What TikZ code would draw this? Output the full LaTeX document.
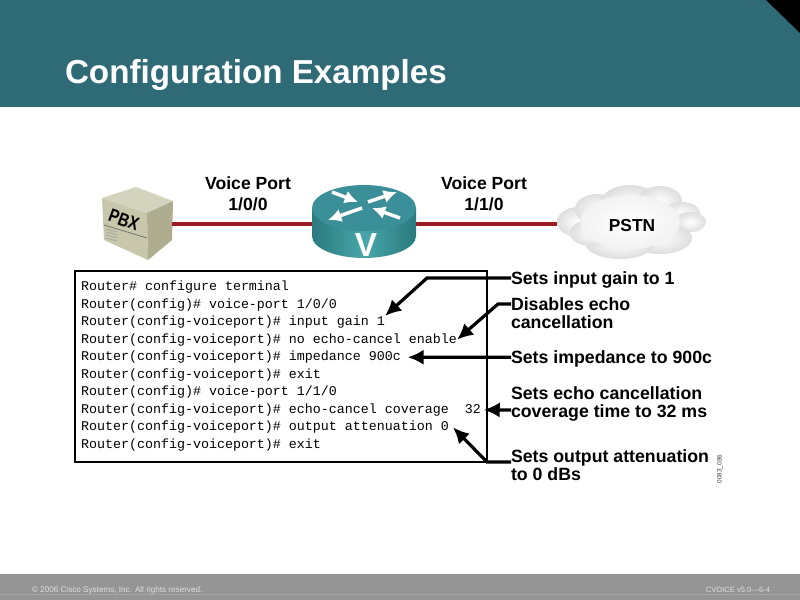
\documentclass[tikz,border=0pt]{standalone}
\usepackage{fontspec}
\setmainfont{Liberation Sans}
\setmonofont{Liberation Mono}
\usetikzlibrary{arrows.meta}
\definecolor{bandteal}{HTML}{2F6A77}
\definecolor{linkred}{HTML}{9A1C22}
\definecolor{footgray}{HTML}{959595}
\definecolor{routertop}{HTML}{3A8F98}
\definecolor{routerdark}{HTML}{2A7A7E}
\definecolor{routerlight}{HTML}{48A6A9}
\definecolor{boxtop}{HTML}{D4D3BE}
\definecolor{boxleft}{HTML}{C9C7AB}
\definecolor{boxright}{HTML}{AFAD8F}
\begin{document}
\begin{tikzpicture}[x=0.75pt,y=-0.75pt,
   every node/.style={inner sep=0pt,outer sep=0pt},
   portlabel/.style={font=\fontsize{13.2pt}{15.5pt}\selectfont\bfseries,align=center},
   note/.style={anchor=west,align=left,font=\fontsize{13.3pt}{13.5pt}\selectfont\bfseries},
   codeline/.style={anchor=west,font=\fontsize{10pt}{10pt}\selectfont\ttfamily,text=black},
   link/.style={draw=linkred,line width=3pt},
   pointer/.style={draw=black,line width=2.4pt,-{Latex[length=12pt,width=11.5pt]}},
   swirl/.style={draw=white,line width=2.6pt,-{Latex[length=10pt,width=10pt]}}]
  \useasboundingbox (0,0) rectangle (800,600);
  \fill[white] (0,0) rectangle (800,600);
  \fill[bandteal] (0,0) rectangle (800,107);
  \fill[black] (766,0) -- (800,0) -- (800,33) -- cycle;
  \fill[footgray] (0,574) rectangle (800,600);
  \draw[white!15!footgray] (0,594) -- (800,594);
  \node[anchor=west,text=white,font=\fontsize{24.9pt}{25pt}\selectfont\bfseries] (title) at (65,75) {Configuration Examples};
  \node[anchor=west,text=white!70!footgray,font=\fontsize{6.1pt}{7pt}\selectfont] (copyright) at (32,590) {© 2006 Cisco Systems, Inc. All rights reserved.};
  \node[anchor=east,text=white!70!footgray,font=\fontsize{5.7pt}{7pt}\selectfont] (course) at (770,590) {CVOICE v5.0—6-4};
  % PBX box
  \fill[boxtop] (102,198) -- (136,187) -- (173,201) -- (147,213) -- cycle;
  \fill[boxleft] (102,198) -- (147,213) -- (148,260) -- (104,240) -- cycle;
  \fill[boxright] (147,213) -- (173,201) -- (172,240) -- (148,260) -- cycle;
  \draw[black!60,line width=0.5pt] (104,225) -- (147,238);
  \foreach \y in {229,232,235,238} {\draw[black!35,line width=0.6pt] (106,\y) -- (117,\y+3);}
  \node[font=\fontsize{14pt}{14pt}\selectfont\bfseries,rotate=-20,xscale=0.8] (pbxlabel) at (124,220) {PBX};
  \node[minimum width=51pt,minimum height=6pt] (pbx) at (138,224) {};
  % router
  \path[left color=routerdark,right color=routerdark,middle color=routerlight] (312,208) -- (312,236) arc[start angle=180,end angle=0,x radius=52,y radius=22] -- (416,208) -- cycle;
  \fill[routertop] (364,208) ellipse[x radius=52,y radius=23];
  \node[minimum width=78pt,minimum height=6pt] (router) at (364,224) {};
  \draw[swirl] (332,192) -- (358,202);
  \draw[swirl] (368,202) -- (397,192);
  \draw[swirl] (362,208) -- (328,220);
  \draw[swirl] (400,218) -- (372,208);
  \node[text=white,font=\fontsize{25pt}{25pt}\selectfont\bfseries] (routerv) at (366,245) {V};
  % PSTN cloud
  \foreach \cx/\cy/\rx/\ry in {578/222/21/15,597/209/22/15,630/204/30/19,660/201/22/15,682/213/18/11,690/222/16/10,660/238/32/16,620/243/35/16,590/233/20/13} {
    \shade[inner color=white,outer color=black!13] (\cx,\cy) ellipse[x radius=\rx,y radius=\ry];}
  \shade[inner color=white,outer color=black!5] (630,222) ellipse[x radius=50,y radius=27];
  \node[minimum width=111pt,minimum height=6pt] (pstn) at (631,224) {};
  \node[font=\fontsize{13pt}{13pt}\selectfont\bfseries] (pstnlabel) at (632,226) {PSTN};
  \draw[link] (pbx.east) -- (router.west);
  \draw[link] (router.east) -- (pstn.west);
  \node[portlabel] (port1) at (248,194) {Voice Port\\1/0/0};
  \node[portlabel] (port2) at (484,194) {Voice Port\\1/1/0};
  % code listing
  \draw[black,line width=2pt] (75,271) rectangle (487,462);
  \foreach \t [count=\n] in {Router\# configure terminal,
    Router(config)\# voice-port 1/0/0,
    Router(config-voiceport)\# input gain 1,
    Router(config-voiceport)\# no echo-cancel enable,
    Router(config-voiceport)\# impedance 900c,
    Router(config-voiceport)\# exit,
    Router(config)\# voice-port 1/1/0,
    Router(config-voiceport)\# echo-cancel coverage\ \ 32,
    Router(config-voiceport)\# output attenuation 0,
    Router(config-voiceport)\# exit} {
    \node[codeline] (line\n) at (81,{287+(\n-1)*17.55}) {\t};}
  % notes
  \node[note] (gain) at (511,279.5) {Sets input gain to 1};
  \node[note] (echo) at (511,313.5) {Disables echo\\cancellation};
  \node[note] (imped) at (511,358.5) {Sets impedance to 900c};
  \node[note] (cover) at (511,403.5) {Sets echo cancellation\\coverage time to 32 ms};
  \node[note] (atten) at (511,465) {Sets output attenuation\\to 0 dBs};
  \node[rotate=90,text=black!75,font=\fontsize{4.8pt}{5pt}\selectfont] (figid) at (720,469) {0083\_086};
  \coordinate (gainbend) at (427,278);
  \coordinate (echobend) at (498,304);
  \coordinate (attenbend) at (487,462);
  \draw[pointer] ([yshift=1.1pt]gain.west) -- (gainbend) -- (line3.north east);
  \draw[pointer] ([yshift=7.1pt]echo.west) -- (echobend) -- (line4.east);
  \draw[pointer] ([yshift=1pt]imped.west) -- ([xshift=5pt]line5.east);
  \draw[pointer] ([yshift=-4.9pt]cover.west) -- ([xshift=2pt]line8.east);
  \draw[pointer] ([yshift=2.25pt]atten.west) -- (attenbend) -- ([xshift=3pt]line9.east);
 \end{tikzpicture}
\end{document}
